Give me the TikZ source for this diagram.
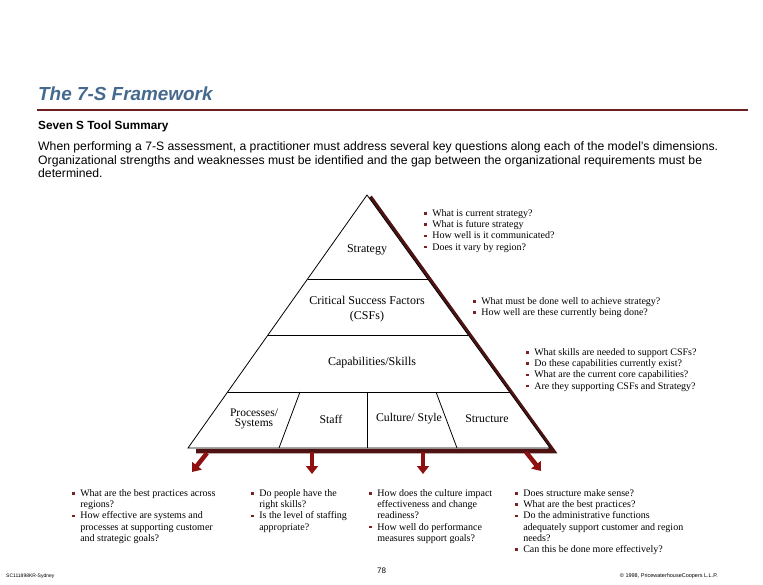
\documentclass[tikz,border=0pt]{standalone}
\usepackage{fontspec}
\setmainfont{Liberation Serif}
\setsansfont{Liberation Sans}
\usetikzlibrary{arrows.meta,calc}
\definecolor{titleblue}{HTML}{466A8E}
\definecolor{rulered}{HTML}{6B1F1F}
\definecolor{shadowred}{HTML}{4F1212}
\definecolor{arrowred}{HTML}{8E1010}
\definecolor{bulletred}{HTML}{7A2222}
\newcommand{\bl}{\textcolor{bulletred}{\rule[1.6pt]{2.6pt}{2.6pt}}}
\tikzset{
  qbox/.style={anchor=north west, inner sep=0pt, font=\fontsize{10}{11.3}\selectfont},
  band/.style={inner sep=0pt, font=\fontsize{12}{15}\selectfont, align=center},
  lowlabel/.style={inner sep=0pt, font=\fontsize{11.8}{12}\selectfont, align=center},
  edge/.style={draw=black, line width=0.8pt},
  downarrow/.style={draw=arrowred, line width=4.5pt, -{Triangle[width=12pt,length=8pt]}},
  bodytext/.style={anchor=base west, inner sep=0pt, font=\sffamily\fontsize{12.2}{13}\selectfont},
}
\begin{document}
\begin{tikzpicture}[x=1pt,y=-1pt]
\useasboundingbox (0,0) rectangle (763,585);
\fill[white] (0,0) rectangle (763,585);
% header
\node[anchor=base west, inner sep=0pt, font=\sffamily\bfseries\itshape\fontsize{18.9}{20}\selectfont, text=titleblue] (title) at (38,101) {The 7-S Framework};
\coordinate (r1) at (37,110);
\coordinate (r2) at (748,110);
\draw[rulered, line width=2pt] (r1) -- (r2);
\node[anchor=base west, inner sep=0pt, font=\sffamily\bfseries\fontsize{11.8}{12}\selectfont] (sub) at (38,130) {Seven S Tool Summary};
\node[bodytext] (p1) at (38,151) {When performing a 7-S assessment, a practitioner must address several key questions along each of the model's dimensions.};
\node[bodytext] (p2) at (38,164.5) {Organizational strengths and weaknesses must be identified and the gap between the organizational requirements must be};
\node[bodytext] (p3) at (38,178) {determined.};
% pyramid
\coordinate (apex) at (367,195);
\coordinate (bl) at (188,448);
\coordinate (br) at (550,448);
\coordinate (sa) at (370,197);
\coordinate (sb) at (553,451);
\coordinate (sc) at (196,451);
\draw[shadowred, line width=4.5pt, line join=miter] (sa) -- (sb) -- (sc);
\draw[edge, fill=white, line join=miter] (apex) -- (bl) -- (br) -- cycle;
\draw[edge] ($(apex)!0.332!(bl)$) -- ($(apex)!0.332!(br)$);
\draw[edge] ($(apex)!0.553!(bl)$) -- ($(apex)!0.553!(br)$);
\draw[edge] ($(apex)!0.779!(bl)$) -- ($(apex)!0.779!(br)$);
\coordinate (d1t) at (300,392); \coordinate (d1b) at (279,448);
\coordinate (d2t) at (367,392); \coordinate (d2b) at (367,448);
\coordinate (d3t) at (436,392); \coordinate (d3b) at (457,448);
\draw[edge] (d1t) -- (d1b);
\draw[edge] (d2t) -- (d2b);
\draw[edge] (d3t) -- (d3b);
% labels
\node[band] (strategy) at (367,250) {Strategy};
\node[band] (csf) at (367,309) {Critical Success Factors\\(CSFs)};
\node[band] (cap) at (372,363) {Capabilities/Skills};
\node[lowlabel, font=\fontsize{11.5}{10.8}\selectfont] (proc) at (254,419) {Processes/\\Systems};
\node[lowlabel] (staff) at (331,419) {Staff};
\node[lowlabel] (culture) at (409,419) {Culture/ Style};
\node[lowlabel] (structure) at (487,419) {Structure};
% arrows
\coordinate (a1s) at (207,453); \coordinate (a1e) at (192,472);
\coordinate (a2s) at (312,452); \coordinate (a2e) at (312,474);
\coordinate (a3s) at (423,452); \coordinate (a3e) at (423,474);
\coordinate (a4s) at (526,452); \coordinate (a4e) at (541,471);
\draw[downarrow] (a1s) -- (a1e);
\draw[downarrow] (a2s) -- (a2e);
\draw[downarrow] (a3s) -- (a3e);
\draw[downarrow] (a4s) -- (a4e);
% question blocks
\node[qbox] (q1) at (424,208) {\begin{tabular}{@{}l@{\hspace{5.5pt}}l@{}}
\bl & What is current strategy?\\
\bl & What is future strategy\\
\bl & How well is it communicated?\\
\bl & Does it vary by region?
\end{tabular}};
\node[qbox] (q2) at (473,296) {\begin{tabular}{@{}l@{\hspace{5.5pt}}l@{}}
\bl & What must be done well to achieve strategy?\\
\bl & How well are these currently being done?
\end{tabular}};
\node[qbox] (q3) at (526,347) {\begin{tabular}{@{}l@{\hspace{5.5pt}}l@{}}
\bl & What skills are needed to support CSFs?\\
\bl & Do these capabilities currently exist?\\
\bl & What are the current core capabilities?\\
\bl & Are they supporting CSFs and Strategy?
\end{tabular}};
\node[qbox] (qa) at (72,488) {\begin{tabular}{@{}l@{\hspace{5.5pt}}l@{}}
\bl & What are the best practices across\\
 & regions?\\
\bl & How effective are systems and\\
 & processes at supporting customer\\
 & and strategic goals?
\end{tabular}};
\node[qbox] (qb) at (251,488) {\begin{tabular}{@{}l@{\hspace{5.5pt}}l@{}}
\bl & Do people have the\\
 & right skills?\\
\bl & Is the level of staffing\\
 & appropriate?
\end{tabular}};
\node[qbox] (qc) at (369,488) {\begin{tabular}{@{}l@{\hspace{5.5pt}}l@{}}
\bl & How does the culture impact\\
 & effectiveness and change\\
 & readiness?\\
\bl & How well do performance\\
 & measures support goals?
\end{tabular}};
\node[qbox] (qd) at (515,488) {\begin{tabular}{@{}l@{\hspace{5.5pt}}l@{}}
\bl & Does structure make sense?\\
\bl & What are the best practices?\\
\bl & Do the administrative functions\\
 & adequately support customer and region\\
 & needs?\\
\bl & Can this be done more effectively?
\end{tabular}};
% footer
\node[anchor=base west, inner sep=0pt, font=\sffamily\fontsize{5}{6}\selectfont] (f1) at (6,577) {SC111898KR-Sydney};
\node[anchor=base west, inner sep=0pt, font=\sffamily\fontsize{8}{9}\selectfont] (f2) at (377,573) {78};
\node[anchor=base east, inner sep=0pt, font=\sffamily\fontsize{5.5}{6}\selectfont] (f3) at (718,577) {\textcopyright{} 1998, PricewaterhouseCoopers L.L.P.};
\end{tikzpicture}
\end{document}
